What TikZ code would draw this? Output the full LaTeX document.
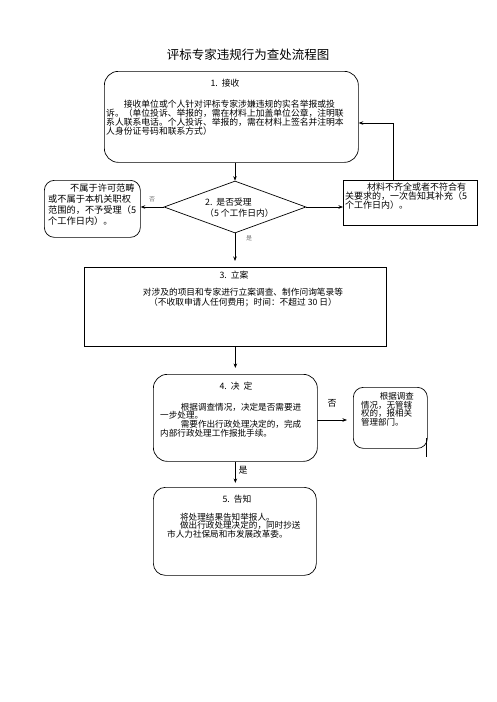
\documentclass[tikz,border=0pt]{standalone}
\usepackage{fontspec}
\newfontfamily\cjk{Noto Sans CJK SC}
\usetikzlibrary{arrows.meta,shapes.geometric}
\begin{document}
\begin{tikzpicture}[x=1pt,y=-1pt,
  font=\cjk,
  box/.style={draw, line width=0.7pt, inner sep=0pt, anchor=north west},
  rbox/.style={box, rounded corners=#1},
  txt/.style={inner sep=0pt, font=\cjk\fontsize{8.8}{9.2}\selectfont},
  para/.style={inner sep=0pt, align=left, anchor=north west},
  arr/.style={line width=0.6pt, -{Stealth[length=4.5pt,width=3.5pt]}},
  ln/.style={line width=0.6pt},
  small/.style={inner sep=0pt, text=black!55, font=\cjk\fontsize{6}{7}\selectfont},
  lab/.style={inner sep=0pt, font=\cjk\fontsize{9}{10}\selectfont}
]
\useasboundingbox (0,0) rectangle (496,702);

\node[inner sep=0pt, font=\cjk\fontsize{12.5}{14}\selectfont] (title) at (248,55) {评标专家违规行为查处流程图};

% box 1
\node[rbox=14pt, minimum width=254pt, minimum height=91pt] (b1) at (104,71) {};
\node[txt] (b1h) at (225,83) {1.\ \ 接收};
\node[para, font=\cjk\fontsize{8.8}{9.2}\selectfont] (b1p) at (106,99.6) {\hspace*{2em}接收单位或个人针对评标专家涉嫌违规的实名举报或投\\诉。（单位投诉、举报的，需在材料上加盖单位公章，注明联\\系人联系电话。个人投诉、举报的，需在材料上签名并注明本\\人身份证号码和联系方式）};

% diamond
\node[draw, diamond, line width=0.7pt, minimum width=142pt, minimum height=52pt, inner sep=0pt] (d) at (235,207) {};
\node[para, font=\cjk\fontsize{8.8}{11}\selectfont] (dt) at (205,197.6) {2.\ \ 是否受理\\（5 个工作日内）};

% left box
\node[rbox=10pt, minimum width=96pt, minimum height=57pt] (bl) at (44,180) {};
\node[para, font=\cjk\fontsize{9.2}{11.2}\selectfont] (blt) at (48,183.2) {\hspace*{22pt}不属于许可范畴\\或不属于本机关职权\\范围的，不予受理（5\\个工作日内）。};

% right box
\node[box, minimum width=134pt, minimum height=45pt] (br) at (343,180) {};
\node[para, font=\cjk\fontsize{9}{8.6}\selectfont] (brt) at (345,182.6) {\hspace*{22pt}材料不齐全或者不符合有\\关要求的，一次告知其补充（5\\个工作日内）。};

% box 3
\node[box, minimum width=302pt, minimum height=79pt] (b3) at (84,267) {};
\node[txt] (b3h) at (234,275) {3.\ \ 立案};
\node[inner sep=0pt, align=center, font=\cjk\fontsize{8.7}{10}\selectfont] (b3t) at (243,298) {对涉及的项目和专家进行立案调查、制作问询笔录等\\（不收取申请人任何费用；时间：不超过 30 日）};

% box 4
\node[rbox=14pt, minimum width=164pt, minimum height=87pt] (b4) at (153,374) {};
\node[txt] (b4h) at (236,386) {4.\ \ 决\ \ 定};
\node[para, font=\cjk\fontsize{8.6}{8.8}\selectfont] (b4t) at (160,402.6) {\hspace*{2.4em}根据调查情况，决定是否需要进\\一步处理。\\\hspace*{2.4em}需要作出行政处理决定的，完成\\内部行政处理工作报批手续。};

% box 4 right
\node[rbox=10pt, minimum width=74pt, minimum height=61pt] (b4r) at (353,387) {};
\node[para, font=\cjk\fontsize{8.5}{8.4}\selectfont] (b4rt) at (361,392.6) {\hspace*{2.2em}根据调查\\情况，无管辖\\权的，报相关\\管理部门。};

% box 5
\node[rbox=12pt, minimum width=163pt, minimum height=88pt] (b5) at (153,487) {};
\node[txt] (b5h) at (237,499) {5.\ \ 告知};
\node[para, font=\cjk\fontsize{8.6}{8.8}\selectfont] (b5t) at (167,512.6) {\hspace*{1.5em}将处理结果告知举报人。\\\hspace*{1.5em}做出行政处理决定的，同时抄送\\市人力社保局和市发展改革委。};

% labels
\node[small] (lno1) at (152,199) {否};
\node[small] (lyes1) at (249,238) {是};
\node[lab] (lno2) at (332,403) {否};
\node[lab] (lyes2) at (243,470) {是};

% connectors
\draw[arr] (b1.south -| d.north) -- (d.north);
\draw[arr] (d.west) -- (bl.east |- d.west);
\draw[arr] (d.east) -- (br.west |- d.east);
\coordinate (c1) at (393,123);
\draw[arr] (c1 |- br.north) -- (c1) -- (c1 -| b1.east);
\draw[arr, shorten >=6pt] (d.south) -- (d.south |- b3.north);
\draw[arr, shorten >=6pt] (b3.south) -- (b3.south |- b4.north);
\coordinate (c2) at (317,420);
\draw[arr, shorten >=6pt] (c2) -- (c2 -| b4r.west);
\draw[arr, shorten >=4pt] (b4.south) -- (b4.south |- b5.north);
\draw[ln] (426,438) -- (426,457);
\end{tikzpicture}
\end{document}
